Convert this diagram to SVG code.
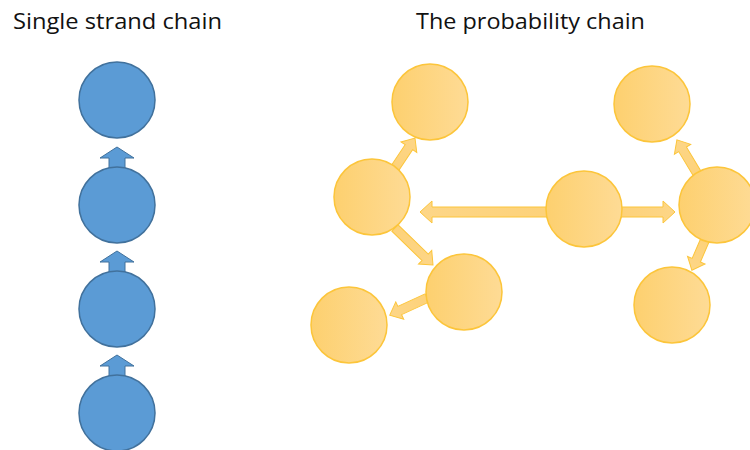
<svg xmlns="http://www.w3.org/2000/svg" width="750" height="450" viewBox="0 0 750 450">
  <defs>
    <linearGradient id="gold" x1="0" y1="0" x2="1" y2="0">
      <stop offset="0" stop-color="#FDD06F"/>
      <stop offset="1" stop-color="#FEDB95"/>
    </linearGradient>
    <linearGradient id="goldArrow" x1="0" y1="0" x2="1" y2="0">
      <stop offset="0" stop-color="#FDD27A"/>
      <stop offset="1" stop-color="#FDD687"/>
    </linearGradient>
  </defs>
  <style>
    .title { font-family: "Open Sans", "Noto Sans", sans-serif; font-size: 21px; fill: #111; }
    .blue { fill: #5B9BD5; stroke: #41719C; stroke-width: 1.5; }
    .gold { fill: url(#gold); stroke: #FCC53A; stroke-width: 1.5; }
    .garrow { fill: url(#goldArrow); stroke: #FCC53A; stroke-width: 1; }
    .barrow { fill: #5B9BD5; stroke: #41719C; stroke-width: 1; }
  </style>

  <text class="title" x="13" y="29" textLength="209" lengthAdjust="spacingAndGlyphs">Single strand chain</text>
  <text class="title" x="416" y="29" textLength="229" lengthAdjust="spacingAndGlyphs">The probability chain</text>

  <!-- connectors: block arrows drawn along +x, placed with translate/rotate -->
  <g id="connectors">
    <path class="barrow" d="M109,170 L109,158 L100,158 L117,147 L134,158 L125,158 L125,170 Z"/>
    <path class="barrow" d="M109,274 L109,262 L100,262 L117,251 L134,262 L125,262 L125,274 Z"/>
    <path class="barrow" d="M109,378 L109,366 L100,366 L117,355 L134,366 L125,366 L125,378 Z"/>

    <path class="garrow" transform="translate(548,212) rotate(180)" d="M0,-5 L116,-5 L116,-11 L128,0 L116,11 L116,5 L0,5 Z"/>
    <path class="garrow" transform="translate(620,212)" d="M0,-5 L43,-5 L43,-11 L55,0 L43,11 L43,5 L0,5 Z"/>
    <path class="garrow" transform="translate(395,168) rotate(-56.3)" d="M0,-4.5 L25,-4.5 L25,-9.5 L36,0 L25,9.5 L25,4.5 L0,4.5 Z"/>
    <path class="garrow" transform="translate(395,228) rotate(44.2)" d="M0,-4.5 L42,-4.5 L42,-9.5 L53,0 L42,9.5 L42,4.5 L0,4.5 Z"/>
    <path class="garrow" transform="translate(427,298) rotate(155.3)" d="M0,-4.5 L30,-4.5 L30,-9.5 L41,0 L30,9.5 L30,4.5 L0,4.5 Z"/>
    <path class="garrow" transform="translate(698,175) rotate(-121)" d="M0,-4.5 L30,-4.5 L30,-9.5 L41,0 L30,9.5 L30,4.5 L0,4.5 Z"/>
    <path class="garrow" transform="translate(705,240) rotate(113.4)" d="M0,-4.5 L22,-4.5 L22,-9.5 L33,0 L22,9.5 L22,4.5 L0,4.5 Z"/>
  </g>

  <!-- single strand chain -->
  <g id="s1"><circle class="blue" cx="117" cy="100" r="38"/></g>
  <g id="s2"><circle class="blue" cx="117" cy="205" r="38"/></g>
  <g id="s3"><circle class="blue" cx="117" cy="309" r="38"/></g>
  <g id="s4"><circle class="blue" cx="117" cy="413" r="38"/></g>

  <!-- probability chain -->
  <g id="pA"><circle class="gold" cx="430" cy="102" r="38"/></g>
  <g id="pB"><circle class="gold" cx="372" cy="197" r="38"/></g>
  <g id="pC"><circle class="gold" cx="464" cy="292" r="38"/></g>
  <g id="pD"><circle class="gold" cx="349" cy="325" r="38"/></g>
  <g id="pE"><circle class="gold" cx="652" cy="104" r="38"/></g>
  <g id="pF"><circle class="gold" cx="584" cy="209" r="38"/></g>
  <g id="pG"><circle class="gold" cx="717" cy="205" r="38"/></g>
  <g id="pH"><circle class="gold" cx="672" cy="305" r="38"/></g>
</svg>
